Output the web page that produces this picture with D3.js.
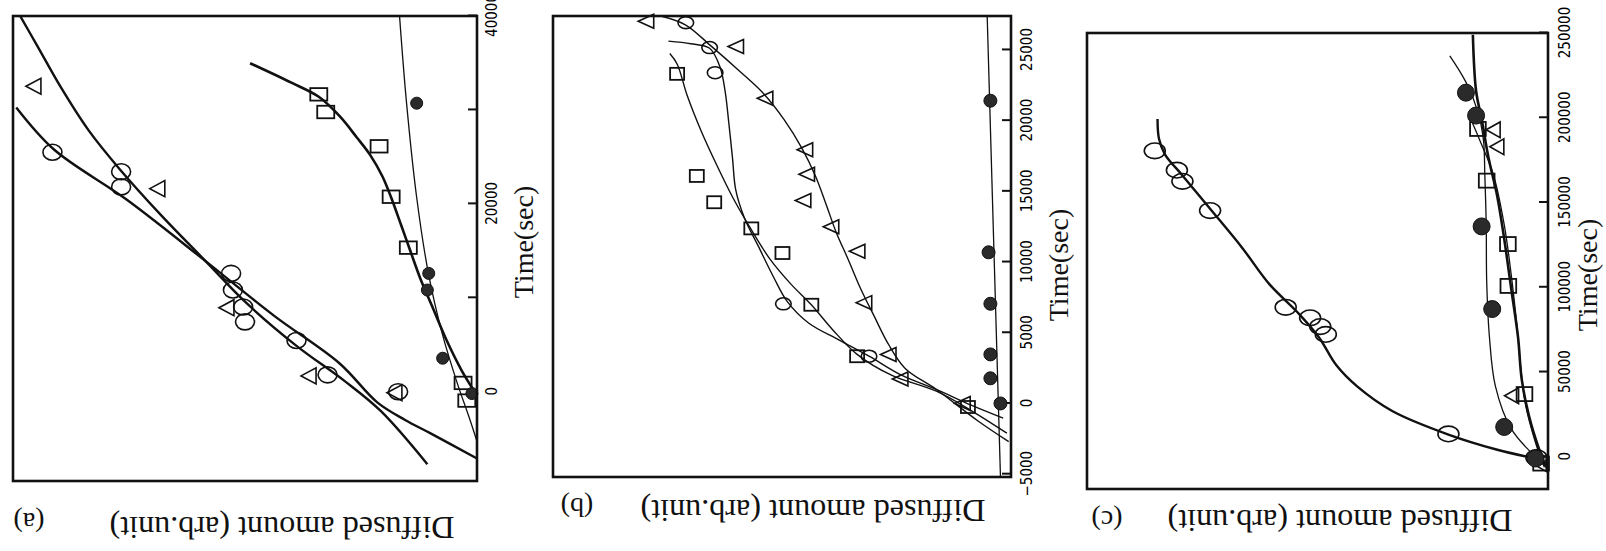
<!DOCTYPE html>
<html>
<head>
<meta charset="utf-8">
<script src="https://cdn.jsdelivr.net/npm/d3@7"></script>
<style>
  body { margin: 0; background: #fff; }
  svg { display: block; }
  .tick text { font-family: "Liberation Sans Narrow", "DejaVu Sans Condensed", "Liberation Sans", sans-serif; font-size: 15px; fill: #000; }
  .lbl { font-family: "Liberation Serif", "Times New Roman", serif; fill: #111; }
</style>
</head>
<body>
<svg id="chart" width="1606" height="551"></svg>
<script>
// values are [time (sec), diffused amount (arb. unit, 0-100)]

// (a)
const aTicks = [0, 10000, 20000, 30000, 40000];
const aTickLabels = ["0", "", "20000", "", "40000"];
const aCircles = [[25490,91.5],[23420,76.7],[21810,76.7],[12600,53],[10830,52.6],[9020,50.4],[7440,50],[5450,38.9],[1800,32.2],[0,17]];
const aTriangles = [[32520,95.6],[21620,68.9],[8950,54],[1690,36.3],[-110,17.8]];
const aSquares = [[31660,34.1],[29780,32.6],[26130,21.1],[20760,18.5],[15340,14.8],[940,3],[-940,2.2]];
const aFilled = [[30720,13],[12600,10.4],[10830,10.7],[3570,7.4],[-190,1.1]];
const aFitCircles = [[30270,99.3],[25760,91.1],[20490,75.6],[13910,58.5],[8080,43.7],[3010,29.6],[-1130,21.5],[-3000,15.5],[-4400,10.1],[-7100,0]];
const aFitTriangles = [[40040,98.5],[36850,94.8],[32340,89.6],[27820,83.7],[23690,77],[18800,68.1],[13910,58.5],[9400,49.6],[4890,38.9],[1130,28.5],[-2070,20.7],[-7710,10.7]];
const aFitSquares = [[34970,48.9],[32900,40],[31400,34.1],[29330,29.6],[27070,25.9],[25190,23],[22940,20.4],[20680,18.5],[17670,16.3],[15040,14.4],[12030,12.2],[9020,9.6],[5640,6.7],[2260,3.3],[-75,0.4]];
const aFitFilled = [[40040,16.7],[30830,15.2],[20680,13],[12410,10.4],[6020,7.4],[1130,4.4],[-3010,1.5],[-5300,0]];

// (b)
const bTicks = [-5000, 0, 5000, 10000, 15000, 20000, 25000];
const bTickLabels = ["\u22125000", "0", "5000", "10000", "15000", "20000", "25000"];
const bCircles = [[26930,71],[25170,65.8],[23390,64.6],[7050,49.7],[3340,31]];
const bTriangles = [[27030,79.7],[25250,60.1],[21580,53.7],[17940,45],[16210,44.6],[14360,45.4],[12500,39.3],[10770,33.6],[7130,32.1],[3470,26.8],[1730,24.2],[0,10.6]];
const bSquares = [[23310,72.9],[16090,68.6],[14230,64.8],[12380,56.7],[10640,49.9],[6980,43.6],[3340,33.6],[-250,9.4]];
const bFilled = [[21410,4.5],[10690,4.9],[7050,4.5],[3470,4.5],[1780,4.5],[0,2.3]];
const bFitCircles = [[25620,74.8],[25440,69.9],[25120,65.8],[23760,63.5],[22030,62.4],[19800,61.6],[17330,60.8],[15100,60.1],[13120,58.2],[11140,55.2],[8910,51.8],[7180,48.8],[5690,44.2],[4460,37.4],[3340,31],[1980,23.8],[990,16.3],[-120,8.7],[-1040,1.7]];
const bFitSquares = [[24750,74.5],[24010,72.9],[21780,70.7],[19310,67.7],[16830,64.2],[14600,60.8],[12500,57.1],[10150,52.5],[8420,48],[6980,43.6],[5200,38.9],[3470,33.6],[1980,26],[870,16.3],[-500,8.7],[-2100,0.9]];
const bFitTriangles = [[27420,76.7],[26780,71.1],[25250,65.4],[23510,59.3],[21900,54],[20050,49.5],[18070,45.7],[16090,42.7],[14110,40.4],[12130,38.2],[10150,35.5],[8170,32.9],[6190,29.9],[4210,26.8],[2480,23.1],[990,16.3],[-1240,7.2],[-2700,0.5]];
const bFitFilled = [[27400,5.2],[-5200,2.3]];

// (c)
const cTicks = [0, 50000, 100000, 150000, 200000, 250000];
const cTickLabels = ["0", "50000", "100000", "150000", "200000", "250000"];
const cCircles = [[180500,85.3],[169100,80.5],[162500,79.3],[145250,73.3],[88200,56.9],[82000,51.6],[76800,49.4],[72200,48.2],[13500,21.6],[-500,2.5]];
const cFilled = [[214800,17.8],[201300,15.6],[135900,14.4],[87150,12.1],[17600,9.5],[-1000,2.7]];
const cSquares = [[193400,15.2],[162900,13.3],[125500,8.7],[100800,8.6],[37000,5.1],[-4000,1.5]];
const cTriangles = [[192900,11.9],[182900,11.1],[36000,7.9],[-4000,1.9]];
const cFitCircles = [[199200,84.7],[187800,84.4],[178450,83.1],[166000,79.3],[146300,73.3],[123500,66.4],[101700,60.4],[85100,54.3],[70550,49.7],[53950,45.9],[41500,41.4],[27000,33.8],[13100,21.6],[4150,11],[-1040,2.7]];
const cFitLower = [[249000,16.3],[215800,15.6],[199200,14.4],[176400,12.9],[153600,11],[128650,9.5],[99600,8],[70550,6.5],[45650,5.7],[24900,4.2],[4150,1.9],[-6200,0.4]];
const cFitSquares = [[201300,17.1],[186750,14.8],[166000,11.8],[136950,9.5],[107900,8],[78850,6.8],[49800,5.8],[31100,4.9],[8300,2.7],[-6200,0.8]];
const cFitFilled = [[236550,21.3],[221000,17.8],[203350,15.2],[186750,14],[166000,13.7],[136950,13.4],[103750,13.3],[70550,12.7],[41500,11.4],[16600,8],[0,2.7]];

const svg = d3.select("#chart");

// each panel is drawn upright in its own frame, then turned 90deg counter-clockwise
function drawPanel(p) {
    const W = p.bottom - p.top;   // time axis length
    const H = p.right - p.left;   // amount axis length
    const g = svg.append("g")
        .attr("transform", `translate(${p.left},${p.bottom}) rotate(-90)`);

    const x = d3.scaleLinear().domain(p.tDomain).range([0, W]);
    const y = d3.scaleLinear().domain([0, 100]).range([H, 0]);

    const axis = d3.axisBottom(x)
        .tickValues(p.ticks)
        .tickFormat((d, i) => p.tickLabels[i])
        .tickSizeInner(-9)
        .tickSizeOuter(0)
        .tickPadding(p.tickPad);
    const ax = g.append("g").attr("transform", `translate(0,${H})`).call(axis);
    ax.select(".domain").remove();
    ax.selectAll(".tick line").attr("stroke", "#111").attr("stroke-width", 2);

    const line = d3.line()
        .x(d => x(d[0]))
        .y(d => y(d[1]))
        .curve(d3.curveCatmullRom.alpha(0.5));

    p.lines.forEach(l => {
        g.append("path")
            .datum(l.data)
            .attr("d", line)
            .attr("fill", "none")
            .attr("stroke", "#111")
            .attr("stroke-width", l.w);
    });

    const m = p.marks;
    g.selectAll(".circ").data(p.circles).enter().append("ellipse")
        .attr("cx", d => x(d[0])).attr("cy", d => y(d[1]))
        .attr("rx", m.crx).attr("ry", m.cry)
        .attr("fill", "none").attr("stroke", "#111").attr("stroke-width", 1.6);

    g.selectAll(".sq").data(p.squares).enter().append("rect")
        .attr("x", d => x(d[0]) - m.sw / 2).attr("y", d => y(d[1]) - m.sh / 2)
        .attr("width", m.sw).attr("height", m.sh)
        .attr("fill", "none").attr("stroke", "#111").attr("stroke-width", 1.8);

    g.selectAll(".tri").data(p.triangles).enter().append("path")
        .attr("d", d => {
            const cx = x(d[0]), cy = y(d[1]);
            return `M${cx},${cy - m.th / 2}L${cx + m.tb / 2},${cy + m.th / 2}L${cx - m.tb / 2},${cy + m.th / 2}Z`;
        })
        .attr("fill", "none").attr("stroke", "#111").attr("stroke-width", 1.6);

    g.selectAll(".fil").data(p.filled).enter().append("circle")
        .attr("cx", d => x(d[0])).attr("cy", d => y(d[1]))
        .attr("r", m.fr)
        .attr("fill", "#2a2a2a").attr("stroke", "#111").attr("stroke-width", 1);

    // frame
    g.append("rect")
        .attr("width", W).attr("height", H)
        .attr("fill", "none").attr("stroke", "#111").attr("stroke-width", 2.6);

    // labels
    g.append("text").attr("class", "lbl")
        .attr("x", p.timeLabel[0]).attr("y", p.timeLabel[1])
        .attr("text-anchor", "middle").attr("dominant-baseline", "central")
        .attr("font-size", 28)
        .text("Time(sec)");

    g.append("text").attr("class", "lbl")
        .attr("transform", `translate(${p.amountLabel[0]},${p.amountLabel[1]}) rotate(-90)`)
        .attr("text-anchor", "middle").attr("dominant-baseline", "central")
        .attr("font-size", 31)
        .attr("textLength", 345).attr("lengthAdjust", "spacingAndGlyphs")
        .text("Diffused amount (arb.unit)");

    g.append("text").attr("class", "lbl")
        .attr("transform", `translate(${p.tag[0]},${p.tag[1]}) rotate(-90)`)
        .attr("text-anchor", "middle").attr("dominant-baseline", "central")
        .attr("font-size", 28)
        .text(p.tagText);
}

drawPanel({
    left: 13, right: 477, top: 16, bottom: 481,
    tDomain: [-9500, 40000], ticks: aTicks, tickLabels: aTickLabels, tickPad: 9,
    circles: aCircles, triangles: aTriangles, squares: aSquares, filled: aFilled,
    lines: [
        { data: aFitCircles, w: 2.4 },
        { data: aFitTriangles, w: 2.4 },
        { data: aFitSquares, w: 2.6 },
        { data: aFitFilled, w: 1.3 }
    ],
    marks: { crx: 8, cry: 9.5, sw: 12.5, sh: 17, tb: 16, th: 15, fr: 6 },
    timeLabel: [239, 510], amountLabel: [-46, 269], tag: [-41, 16], tagText: "(a)"
});

drawPanel({
    left: 553, right: 1011, top: 16, bottom: 477,
    tDomain: [-5200, 27400], ticks: bTicks, tickLabels: bTickLabels, tickPad: 10,
    circles: bCircles, triangles: bTriangles, squares: bSquares, filled: bFilled,
    lines: [
        { data: bFitCircles, w: 1.4 },
        { data: bFitSquares, w: 1.4 },
        { data: bFitTriangles, w: 1.4 },
        { data: bFitFilled, w: 1.3 }
    ],
    marks: { crx: 6, cry: 7.8, sw: 12, sh: 14, tb: 14, th: 15.5, fr: 6.5 },
    timeLabel: [212, 505], amountLabel: [-33, 260], tag: [-30, 24], tagText: "(b)"
});

drawPanel({
    left: 1087, right: 1548, top: 33, bottom: 489,
    tDomain: [-19000, 250000], ticks: cTicks, tickLabels: cTickLabels, tickPad: 11,
    circles: cCircles, triangles: cTriangles, squares: cSquares, filled: cFilled,
    lines: [
        { data: cFitCircles, w: 2.4 },
        { data: cFitLower, w: 2.6 },
        { data: cFitSquares, w: 1.3 },
        { data: cFitFilled, w: 1.3 }
    ],
    marks: { crx: 7.8, cry: 10.5, sw: 14, sh: 15.7, tb: 15.7, th: 14, fr: 8.5 },
    timeLabel: [214, 500], amountLabel: [-31, 253], tag: [-31, 20], tagText: "(c)"
});
</script>
</body>
</html>
